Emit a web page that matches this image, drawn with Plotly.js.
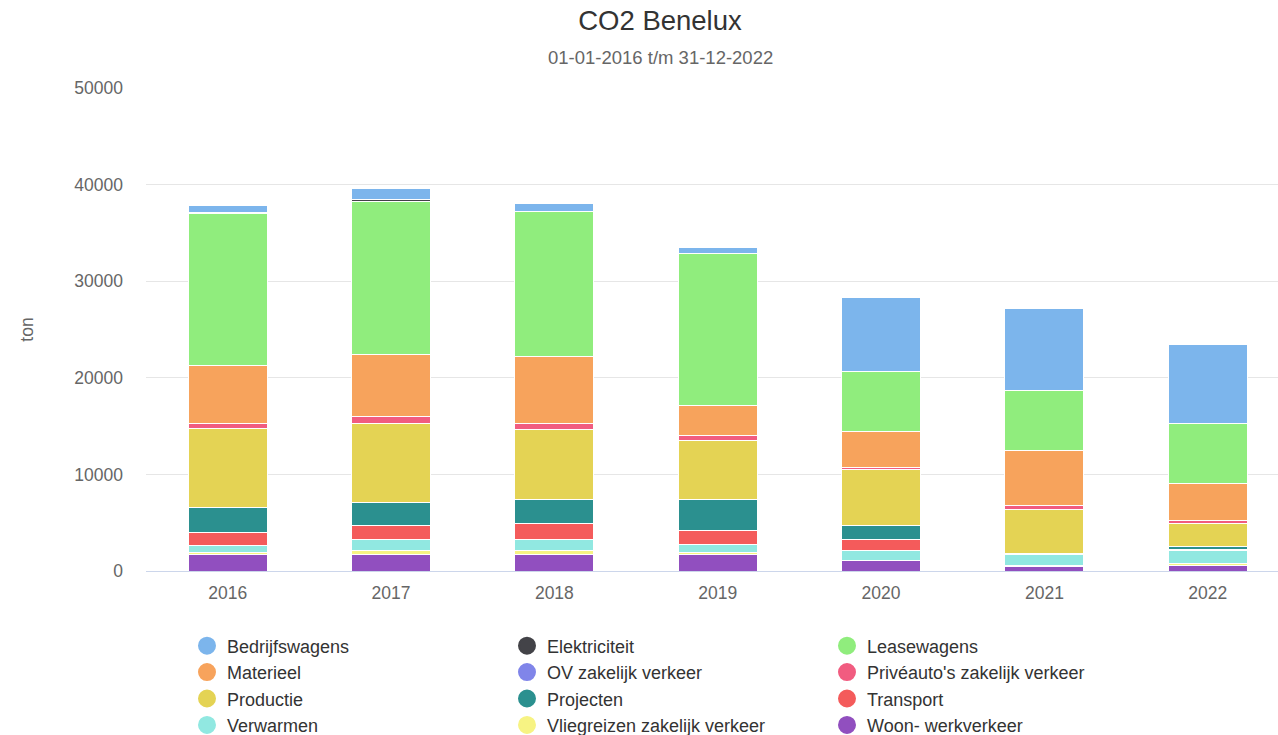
<!DOCTYPE html>
<html>
<head>
<meta charset="utf-8">
<script src="https://cdn.plot.ly/plotly-3.0.1.min.js"></script>
<style>html,body{margin:0;padding:0;overflow:hidden;background:#fff}</style>
</head>
<body>
<div id="chart" style="width:1278px;height:735px"></div>
<script>
// Categories (years)
const years = ['2016', '2017', '2018', '2019', '2020', '2021', '2022'];

// Series values (ton CO2)
const bedrijfswagens = [700, 1150, 800, 600, 7650, 8550, 8150];
const elektriciteit  = [50, 150, 0, 0, 0, 0, 0];
const leasewagens    = [15800, 15850, 15000, 15750, 6300, 6200, 6250];
const materieel      = [5950, 6450, 6900, 3100, 3700, 5700, 3800];
const ovZakelijk     = [0, 0, 0, 0, 0, 0, 0];
const priveauto      = [500, 700, 600, 500, 150, 400, 300];
const productie      = [8200, 8200, 7300, 6050, 5800, 4500, 2450];
const projecten      = [2600, 2400, 2500, 3300, 1450, 100, 250];
const transport      = [1400, 1450, 1600, 1450, 1150, 0, 100];
const verwarmen      = [700, 1150, 1200, 750, 1050, 1200, 1400];
const vliegreizen    = [150, 400, 400, 250, 50, 100, 150];
const woonWerk       = [1750, 1700, 1700, 1700, 1050, 450, 600];

// Series names and colours (legend order)
const seriesNames = ['Bedrijfswagens', 'Elektriciteit', 'Leasewagens', 'Materieel',
  'OV zakelijk verkeer', "Privéauto's zakelijk verkeer", 'Productie', 'Projecten',
  'Transport', 'Verwarmen', 'Vliegreizen zakelijk verkeer', 'Woon- werkverkeer'];
const seriesValues = [bedrijfswagens, elektriciteit, leasewagens, materieel,
  ovZakelijk, priveauto, productie, projecten, transport, verwarmen, vliegreizen, woonWerk];
const seriesColors = ['#7cb5ec', '#434348', '#90ed7d', '#f7a35c', '#8085e9', '#f15c80',
  '#e4d354', '#2b908f', '#f45b5b', '#91e8e1', '#f7f383', '#914fbf'];

const traces = [];
// bars: stacked bottom-up from the last series to the first
for (let i = seriesNames.length - 1; i >= 0; i--) {
  traces.push({
    type: 'bar', x: years, y: seriesValues[i], name: seriesNames[i],
    marker: {color: seriesColors[i], line: {color: '#ffffff', width: 1}},
    showlegend: false, legendgroup: seriesNames[i],
    hovertemplate: '%{x}<br>' + seriesNames[i] + ': %{y}<extra></extra>'
  });
}
// legend entries with round symbols
for (let i = seriesNames.length - 1; i >= 0; i--) {
  traces.push({
    type: 'scatter', mode: 'markers', x: [null], y: [null], name: seriesNames[i],
    legendgroup: seriesNames[i], hoverinfo: 'skip',
    marker: {color: seriesColors[i], size: 16, symbol: 'circle',
             line: {color: seriesColors[i], width: 2}}
  });
}

const layout = {
  width: 1278, height: 735,
  margin: {l: 146, r: 0, t: 88, b: 164},
  paper_bgcolor: '#ffffff', plot_bgcolor: '#ffffff',
  font: {family: 'Liberation Sans, Arial, sans-serif', color: '#666666'},
  barmode: 'stack', bargap: 0.516,
  title: {
    text: 'CO2 Benelux', xref: 'container', x: 660 / 1278, xanchor: 'center',
    yref: 'container', y: 0.972, yanchor: 'middle',
    font: {size: 27.5, color: '#333333', family: 'Liberation Sans, Arial, sans-serif'}
  },
  annotations: [{
    text: '01-01-2016 t/m 31-12-2022', xref: 'paper', yref: 'paper',
    x: (660 - 146) / 1132, y: 1 + (88 - 57) / 483, xanchor: 'center', yanchor: 'middle',
    showarrow: false, font: {size: 18.5, color: '#666666'}
  }],
  xaxis: {
    type: 'category', range: [-0.5, 6.43], showgrid: false,
    showline: true, linecolor: '#ccd6eb', linewidth: 1,
    ticks: '', tickfont: {size: 17.5, color: '#666666'}, ticklabelstandoff: 6,
    fixedrange: true
  },
  yaxis: {
    range: [0, 50000], tickvals: [0, 10000, 20000, 30000, 40000, 50000],
    ticktext: ['0', '10000', '20000', '30000', '40000', '50000'],
    showgrid: true, gridcolor: '#e6e6e6', gridwidth: 1, zeroline: false,
    showline: false, ticks: '', tickfont: {size: 17.5, color: '#666666'},
    ticklabelstandoff: 22,
    title: {text: 'ton', font: {size: 17.5, color: '#666666'}, standoff: 36},
    fixedrange: true
  },
  legend: {
    orientation: 'h', xref: 'container', yref: 'container',
    x: 187 / 1278, xanchor: 'left',
    y: 1 - 627.5 / 735, yanchor: 'top',
    entrywidth: 275, entrywidthmode: 'pixels', traceorder: 'reversed',
    font: {size: 18, color: '#333333'}, bgcolor: 'rgba(0,0,0,0)'
  },
  showlegend: true
};

Plotly.newPlot('chart', traces, layout, {displayModeBar: false, responsive: false});
</script>
</body>
</html>
